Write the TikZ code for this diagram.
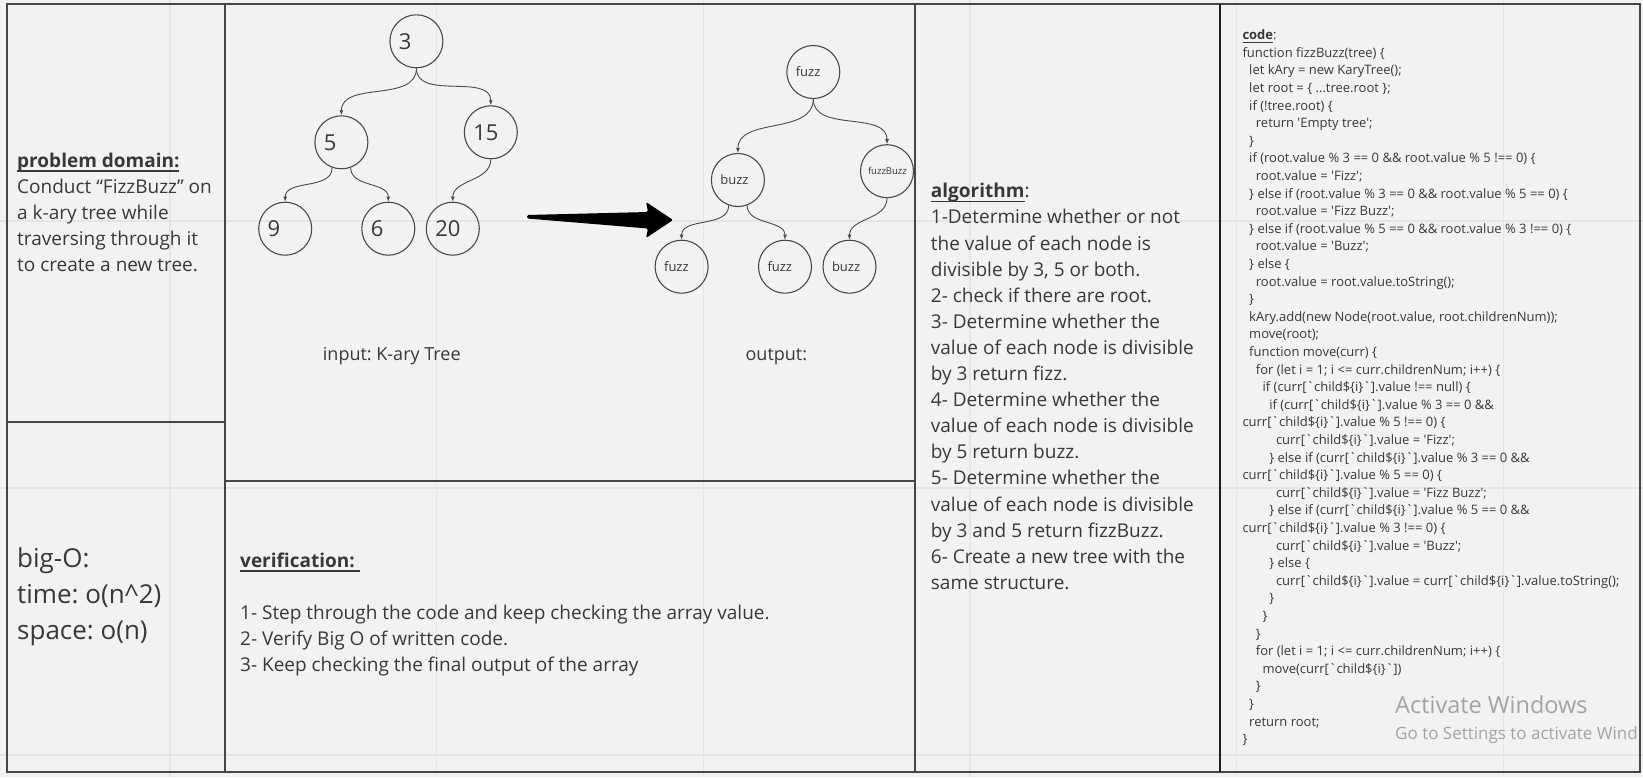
\documentclass[tikz,border=0pt]{standalone}
\usepackage{fontspec}
\setmainfont{Open Sans}
\newfontfamily\codefont{Open Sans}[Ligatures=TeXOff]
\usetikzlibrary{arrows.meta}
\frenchspacing

% Define colors
\definecolor{bggray}{HTML}{F2F2F2}
\definecolor{gridgray}{HTML}{E5E5E5}
\definecolor{panelgray}{HTML}{464646}
\definecolor{nodegray}{HTML}{4A4A4A}
\definecolor{textgray}{HTML}{383838}
\definecolor{wmgray}{HTML}{A3A3A3}

% underlined heading
\newcommand{\headul}[1]{\setbox0\hbox{#1}\rlap{\rule[-0.24em]{\wd0}{0.1em}}\box0}
% code indent
\newcommand{\ind}[1]{\hspace*{#1\dimexpr 6.7pt\relax}}

\begin{document}
\begin{tikzpicture}[x=1pt, y=-1pt,
  panel/.style={draw=panelgray, line width=2pt},
  gridline/.style={draw=gridgray, line width=1.5pt},
  knode/.style={circle, draw=nodegray, line width=1.1pt, minimum size=53pt, inner sep=0pt,
    text width=35pt, align=left, text=textgray, font=\fontsize{22}{24}\selectfont},
  onode/.style={knode, font=\fontsize{13}{15}\selectfont},
  edge/.style={draw=nodegray, line width=0.9pt, -{Latex[length=5pt,width=4pt]}},
  block/.style={anchor=north west, inner sep=0pt, align=left, text=textgray},
]

% Background and grid
\fill[bggray] (0,0) rectangle (1643,777);
\useasboundingbox (0,0) rectangle (1643,777);
\foreach \gx in {170,436.7,703.3,970,1236.7,1503.3}
  \draw[gridline] (\gx,0) -- (\gx,777);
\foreach \gy in {221,488,755}
  \draw[gridline] (0,\gy) -- (1643,\gy);

% Draw the panels
\draw[panel] (7,4) rectangle (1640,772);
\draw[panel] (225,4) -- (225,772);
\draw[panel] (7,421.7) -- (225,421.7);
\draw[panel] (225,481) -- (915,481);
\draw[panel] (915,4) -- (915,772);
\draw[panel, draw=black!88] (1220,4) -- (1220,772);

% Problem domain and big-O
\node[block, font=\fontsize{19}{26}\selectfont] (pd) at (17,148.8) {\strut\headul{\bfseries problem domain:}\\
Conduct “FizzBuzz” on\\
a k-ary tree while\\
traversing through it\\
to create a new tree.};
\node[block, font=\fontsize{26}{36}\selectfont] (bigo) at (17,541.8) {\strut big-O:\\
time: o(n\textasciicircum 2)\\
space: o(n)};

% Input tree
\node[knode] (n3) at (416.4,41.3) {3};
\node[knode] (n5) at (341.4,142.3) {5};
\node[knode] (n15) at (490.8,132.3) {15};
\node[knode] (n9) at (285.2,228.7) {9};
\node[knode] (n6) at (388.3,228.7) {6};
\node[knode] (n20) at (452.8,228.7) {20};

\draw[edge] (n3.south) to[out=-90,in=90] (n5.north);
\draw[edge] (n3.south) to[out=-90,in=90] (n15.north);
\draw[edge] (n5.250) to[out=-90,in=90] (n9.north);
\draw[edge] (n5.290) to[out=-90,in=90] (n6.north);
\draw[edge] (n15.south) to[out=-90,in=90] (n20.north);

% Output tree
\node[onode] (fz) at (813.3,72) {fuzz};
\node[onode] (bz) at (737.9,180) {buzz};
\node[onode, text width=38pt, font=\fontsize{9.5}{11}\selectfont] (fzbz) at (887,171.2) {fuzzBuzz};
\node[onode] (fzA) at (681.6,266.7) {fuzz};
\node[onode] (fzB) at (785,266.7) {fuzz};
\node[onode] (bzC) at (849.5,266.7) {buzz};

\draw[edge] (fz.south) to[out=-90,in=90] (bz.north);
\draw[edge] (fz.south) to[out=-90,in=90] (fzbz.north);
\draw[edge] (bz.250) to[out=-90,in=90] (fzA.north);
\draw[edge] (bz.290) to[out=-90,in=90] (fzB.north);
\draw[edge] (fzbz.south) to[out=-90,in=90] (bzC.north);

% Big arrow
\fill[black, rounded corners=1.5pt] (527,215) -- (648,212) -- (646,202) -- (673,220)
  -- (646,238) -- (648,228.5) -- (527,218.5) -- cycle;

% Tree labels
\node[anchor=base west, inner sep=0pt, text=textgray, font=\fontsize{18}{22}\selectfont] (inlbl) at (322.7,360.7) {input: K-ary Tree};
\node[anchor=base west, inner sep=0pt, text=textgray, font=\fontsize{18}{22}\selectfont] (outlbl) at (745.4,360.7) {output:};

% Verification
\node[block, font=\fontsize{19}{26}\selectfont] (ver) at (240,548.8) {\strut\headul{\bfseries verification:\ }\\
\strut\\
1- Step through the code and keep checking the array value.\\
2- Verify Big O of written code.\\
3- Keep checking the final output of the array};

% Algorithm
\node[block, font=\fontsize{19}{26.1}\selectfont] (alg) at (930.7,179.4) {\strut\headul{\bfseries algorithm}:\\
1-Determine whether or not\\
the value of each node is\\
divisible by 3, 5 or both.\\
2- check if there are root.\\
3- Determine whether the\\
value of each node is divisible\\
by 3 return fizz.\\
4- Determine whether the\\
value of each node is divisible\\
by 5 return buzz.\\
5- Determine whether the\\
value of each node is divisible\\
by 3 and 5 return fizzBuzz.\\
6- Create a new tree with the\\
same structure.};

% Code
\node[block, font=\codefont\fontsize{13}{17.6}\selectfont] (code) at (1242.3,27.2) {\strut\headul{\bfseries code}:\\
function fizzBuzz(tree) \{\\
\ind{1}let kAry = new KaryTree();\\
\ind{1}let root = \{ ...tree.root \};\\
\ind{1}if (!tree.root) \{\\
\ind{2}return 'Empty tree';\\
\ind{1}\}\\
\ind{1}if (root.value \% 3 == 0 \&\& root.value \% 5 !== 0) \{\\
\ind{2}root.value = 'Fizz';\\
\ind{1}\} else if (root.value \% 3 == 0 \&\& root.value \% 5 == 0) \{\\
\ind{2}root.value = 'Fizz Buzz';\\
\ind{1}\} else if (root.value \% 5 == 0 \&\& root.value \% 3 !== 0) \{\\
\ind{2}root.value = 'Buzz';\\
\ind{1}\} else \{\\
\ind{2}root.value = root.value.toString();\\
\ind{1}\}\\
\ind{1}kAry.add(new Node(root.value, root.childrenNum));\\
\ind{1}move(root);\\
\ind{1}function move(curr) \{\\
\ind{2}for (let i = 1; i <= curr.childrenNum; i++) \{\\
\ind{3}if (curr[`child\$\{i\}`].value !== null) \{\\
\ind{4}if (curr[`child\$\{i\}`].value \% 3 == 0 \&\&\\
curr[`child\$\{i\}`].value \% 5 !== 0) \{\\
\ind{5}curr[`child\$\{i\}`].value = 'Fizz';\\
\ind{4}\} else if (curr[`child\$\{i\}`].value \% 3 == 0 \&\&\\
curr[`child\$\{i\}`].value \% 5 == 0) \{\\
\ind{5}curr[`child\$\{i\}`].value = 'Fizz Buzz';\\
\ind{4}\} else if (curr[`child\$\{i\}`].value \% 5 == 0 \&\&\\
curr[`child\$\{i\}`].value \% 3 !== 0) \{\\
\ind{5}curr[`child\$\{i\}`].value = 'Buzz';\\
\ind{4}\} else \{\\
\ind{5}curr[`child\$\{i\}`].value = curr[`child\$\{i\}`].value.toString();\\
\ind{4}\}\\
\ind{3}\}\\
\ind{2}\}\\
\ind{2}for (let i = 1; i <= curr.childrenNum; i++) \{\\
\ind{3}move(curr[`child\$\{i\}`])\\
\ind{2}\}\\
\ind{1}\}\\
\ind{1}return root;\\
\}};

% Watermark
\node[anchor=base west, inner sep=0pt, text=wmgray, font=\fontsize{23.5}{28}\selectfont] (wm1) at (1395,713.3) {Activate Windows};
\node[anchor=base west, inner sep=0pt, text=wmgray, font=\fontsize{17}{20}\selectfont] (wm2) at (1395,739.3) {Go to Settings to activate Wind};

\end{tikzpicture}
\end{document}
